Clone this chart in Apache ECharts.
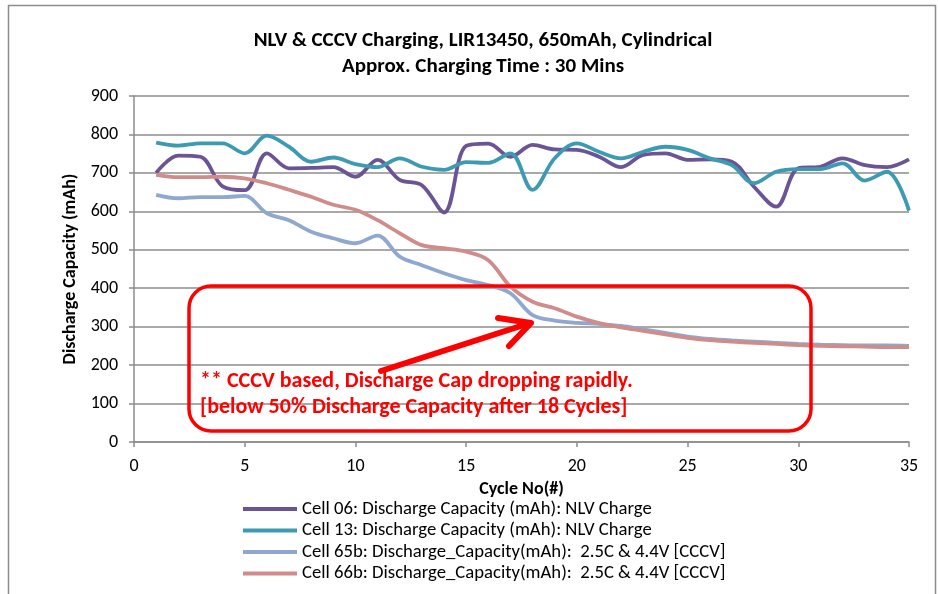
<!DOCTYPE html>
<html>
<head>
<meta charset="utf-8">
<title>NLV & CCCV Charging</title>
<script src="https://cdn.jsdelivr.net/npm/echarts@6/dist/echarts.min.js"></script>
<style>
  html, body { margin: 0; padding: 0; background: #fff; }
  #chart { width: 938px; height: 594px; }
</style>
</head>
<body>
<div id="chart"></div>
<script>
const cycles = [1, 2, 3, 4, 5, 6, 7, 8, 9, 10, 11, 12, 13, 14, 15, 16, 17, 18,
  19, 20, 21, 22, 23, 24, 25, 26, 27, 28, 29, 30, 31, 32, 33, 34, 35]

const cell06 = [700, 745, 742, 665, 655, 751, 712, 713, 715, 690, 734, 682, 668, 597, 770,
  776, 742, 773, 761, 760, 742, 715, 747, 751, 734, 735, 729, 664, 612, 712, 716, 738, 720, 715, 735]

const cell13 = [779, 771, 777, 777, 751, 797, 768, 729, 740, 723, 715, 738, 716, 708, 728,
  726, 751, 656, 738, 777, 755, 738, 755, 768, 760, 738, 720, 673, 703, 710, 710, 725, 680, 703, 602]

const cell65b = [643, 634, 637, 637, 640, 595, 577, 547, 530, 517, 537, 482, 460, 439, 421,
  408, 387, 330, 316, 310, 307, 302, 293, 284, 274, 268, 264, 261, 258, 255, 253, 252, 251, 251, 250]

const cell66b = [695, 689, 689, 690, 686, 673, 656, 638, 617, 604, 577, 543, 512, 504, 495,
  473, 404, 365, 348, 326, 309, 298, 289, 280, 271, 265, 261, 258, 255, 252, 250, 249, 248, 247, 247]

const seriesNames = [
  'Cell 06: Discharge Capacity (mAh): NLV Charge',
  'Cell 13: Discharge Capacity (mAh): NLV Charge',
  'Cell 65b: Discharge_Capacity(mAh):  2.5C & 4.4V [CCCV]',
  'Cell 66b: Discharge_Capacity(mAh):  2.5C & 4.4V [CCCV]'
]

const FONT = 'Carlito, "Liberation Sans Narrow", "Open Sans", sans-serif'
const COLORS = ['#6b5496', '#3d9ab3', '#8fa8d0', '#d08c8a']
const GRID_COLOR = '#8c8c8c'

const toPairs = (vals) => cycles.map((c, i) => [c, vals[i]])

const chart = echarts.init(document.getElementById('chart'))

const makeSeries = (name, vals, color) => ({
  name,
  type: 'line',
  smooth: 0.35,
  symbol: 'none',
  data: toPairs(vals),
  lineStyle: { color, width: 3.8 },
  itemStyle: { color }
})

const option = {
  animation: false,
  textStyle: { fontFamily: FONT },
  title: {
    text: 'NLV & CCCV Charging, LIR13450, 650mAh, Cylindrical\nApprox. Charging Time : 30 Mins',
    left: 478,
    textAlign: 'center',
    top: 23,
    textStyle: { fontSize: 21, fontWeight: 'bold', color: '#000', lineHeight: 26, fontFamily: FONT }
  },
  grid: { left: 134, right: 29, top: 96, bottom: 152 },
  legend: {
    orient: 'vertical',
    left: 243,
    top: 499,
    padding: 0,
    itemWidth: 54,
    itemHeight: 4,
    itemGap: 1.5,
    icon: 'rect',
    data: seriesNames,
    textStyle: { fontSize: 18.7, lineHeight: 20, color: '#000', fontFamily: FONT }
  },
  xAxis: {
    type: 'value',
    min: 0,
    max: 35,
    interval: 5,
    name: 'Cycle No(#)',
    nameLocation: 'middle',
    nameGap: 38,
    nameTextStyle: { fontSize: 18, fontWeight: 'bold', color: '#000' },
    axisLine: { lineStyle: { color: GRID_COLOR, width: 1.5 } },
    axisTick: { show: true, length: 5, lineStyle: { color: GRID_COLOR, width: 1.5 } },
    axisLabel: { fontSize: 18, color: '#000', margin: 15 },
    splitLine: { show: false }
  },
  yAxis: {
    type: 'value',
    min: 0,
    max: 900,
    interval: 100,
    name: 'Discharge Capacity (mAh)',
    nameLocation: 'middle',
    nameGap: 53,
    nameTextStyle: { fontSize: 18, fontWeight: 'bold', color: '#000' },
    axisLine: { show: true, lineStyle: { color: GRID_COLOR, width: 1.5 } },
    axisTick: { show: true, length: 5, lineStyle: { color: GRID_COLOR, width: 1.5 } },
    axisLabel: { fontSize: 18, color: '#000', margin: 16 },
    splitLine: { lineStyle: { color: GRID_COLOR, width: 1.5 } }
  },
  series: [
    makeSeries(seriesNames[0], cell06, COLORS[0]),
    makeSeries(seriesNames[1], cell13, COLORS[1]),
    makeSeries(seriesNames[2], cell65b, COLORS[2]),
    makeSeries(seriesNames[3], cell66b, COLORS[3])
  ],
  graphic: [
    // outer chart border
    {
      type: 'rect',
      shape: { x: 8.5, y: 5.5, width: 927, height: 620 },
      style: { fill: 'none', stroke: '#8c8c8c', lineWidth: 1.5 },
      silent: true
    },
    // annotation box
    {
      type: 'rect',
      shape: { x: 189, y: 286, width: 622, height: 145, r: 22 },
      style: { fill: 'none', stroke: '#ff0000', lineWidth: 3.5 },
      z: 10
    },
    // arrow
    {
      type: 'polyline',
      shape: { points: [[381, 371], [530, 323]] },
      style: { stroke: '#ff0000', lineWidth: 6, lineCap: 'round' },
      z: 10
    },
    {
      type: 'polyline',
      shape: { points: [[498, 318], [531, 323], [509, 346]] },
      style: { stroke: '#ff0000', lineWidth: 6, lineCap: 'round', lineJoin: 'round', fill: 'none' },
      z: 10
    },
    {
      type: 'text',
      left: 200,
      top: 368,
      style: {
        text: '** CCCV based, Discharge Cap dropping rapidly.\n[below 50% Discharge Capacity after 18 Cycles]',
        fill: '#ff0000',
        font: 'bold 22px ' + FONT,
        lineHeight: 26
      },
      z: 10
    }
  ]
}

chart.setOption(option)
</script>
</body>
</html>
